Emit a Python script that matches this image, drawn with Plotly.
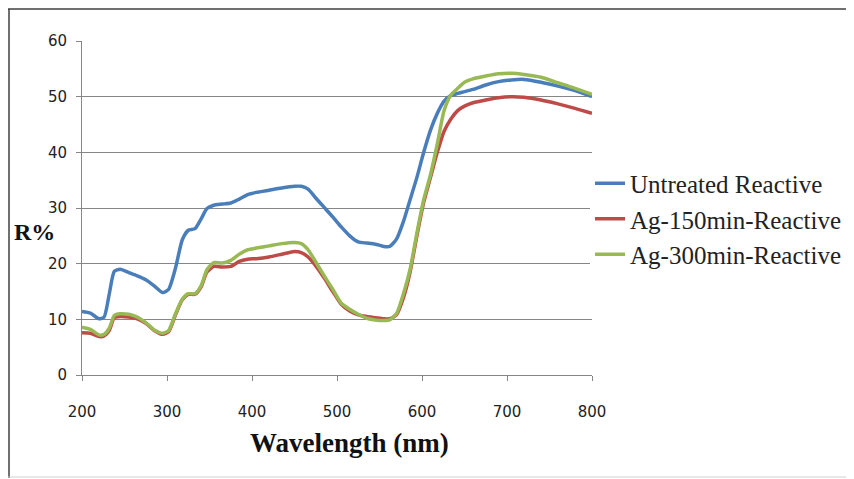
import plotly.graph_objects as go

wavelength = [200, 210, 220, 226, 232, 238, 245, 255, 265, 275, 285, 295, 302, 310, 318, 325,
              333, 340, 347, 355, 365, 375, 385, 395, 405, 420, 435, 450, 458, 466, 475, 485,
              495, 505, 515, 525, 535, 545, 555, 562, 570, 578, 586, 594, 602, 610, 618, 626,
              634, 642, 650, 660, 675, 690, 705, 720, 740, 760, 780, 800]

untreated = [11.4, 11.1, 10.1, 10.4, 14.5, 18.6, 19.0, 18.4, 17.8, 17.1, 16.0, 14.8, 15.4, 19.2, 24.3, 26.0,
             26.3, 28.0, 29.9, 30.5, 30.7, 30.9, 31.6, 32.4, 32.8, 33.2, 33.6, 33.9, 33.9, 33.4, 31.8, 30.1,
             28.4, 26.6, 25.0, 23.9, 23.7, 23.5, 23.1, 23.1, 24.4, 27.5, 31.5, 35.5, 40.0, 44.0, 47.0, 49.2,
             50.2, 50.6, 50.9, 51.3, 52.1, 52.7, 53.0, 53.1, 52.6, 51.9, 51.1, 50.0]

ag150 = [7.6, 7.5, 6.9, 7.0, 8.0, 10.3, 10.5, 10.4, 10.1, 9.3, 8.0, 7.3, 7.8, 10.8, 13.5, 14.5,
         14.5, 15.8, 18.5, 19.5, 19.4, 19.5, 20.4, 20.8, 20.9, 21.2, 21.7, 22.2, 22.0, 21.2, 19.6, 17.4,
         15.0, 12.7, 11.5, 10.8, 10.5, 10.3, 10.1, 10.1, 10.8, 13.8, 18.5, 25.0, 31.0, 35.5, 40.0, 43.8,
         46.0, 47.5, 48.3, 48.9, 49.4, 49.8, 50.0, 49.9, 49.4, 48.7, 47.9, 47.0]

ag300 = [8.6, 8.2, 7.2, 7.3, 8.4, 10.7, 11.0, 10.9, 10.4, 9.4, 8.1, 7.5, 8.0, 11.0, 13.6, 14.6,
         14.6, 16.0, 18.9, 20.2, 20.1, 20.6, 21.7, 22.5, 22.8, 23.2, 23.6, 23.8, 23.6, 22.5, 20.3, 17.8,
         15.4, 12.9, 11.8, 10.9, 10.2, 9.9, 9.8, 9.9, 11.0, 14.5, 19.0, 25.5, 31.5, 36.0, 41.5, 47.5,
         50.3, 51.5, 52.6, 53.2, 53.7, 54.1, 54.2, 54.0, 53.5, 52.5, 51.5, 50.4]

series_names = ["Untreated Reactive", "Ag-150min-Reactive", "Ag-300min-Reactive"]
series_values = [untreated, ag150, ag300]
series_colors = ["#4A7EBB", "#BE4B48", "#98B954"]

x_ticks = [200, 300, 400, 500, 600, 700, 800]
y_ticks = [0, 10, 20, 30, 40, 50, 60]

fig = go.Figure()
for name, vals, col in zip(series_names, series_values, series_colors):
    fig.add_trace(go.Scatter(x=wavelength, y=vals, mode="lines", name=name,
                             line=dict(color=col, width=3.5, shape="spline", smoothing=0.6)))

OFF = 8  # page body margin
FW, FH = 854 - OFF, 479 - OFF
L, R, T, B = 82, 592, 41, 375  # plot area in page pixels

def px(xp):
    return (xp - L) / (R - L)

def py(yp):
    return (B - yp) / (B - T)

axis_col = "#868686"
fig.update_layout(
    width=FW, height=FH,
    margin=dict(l=L - OFF, r=FW - (R - OFF), t=T - OFF, b=FH - (B - OFF), autoexpand=False),
    paper_bgcolor="white", plot_bgcolor="white",
    showlegend=True,
    legend=dict(x=px(590), y=py(219), xanchor="left", yanchor="middle",
                bgcolor="white", borderwidth=0, itemwidth=30,
                font=dict(family="Liberation Serif", size=25, color="#222222"),
                tracegroupgap=0),
    xaxis=dict(range=[200, 800], tickvals=x_ticks, showgrid=False,
               showline=True, linecolor=axis_col, linewidth=1,
               ticks="outside", ticklen=5, tickcolor=axis_col,
               ticklabelstandoff=18,
               tickfont=dict(family="DejaVu Sans", size=15, color="#222222"),
               zeroline=False),
    yaxis=dict(range=[0, 60], tickvals=y_ticks, showgrid=True, gridcolor=axis_col, gridwidth=1,
               showline=True, linecolor=axis_col, linewidth=1,
               ticks="outside", ticklen=5, tickcolor=axis_col,
               ticklabelstandoff=6,
               tickfont=dict(family="DejaVu Sans", size=15, color="#222222"),
               zeroline=False),
    annotations=[
        dict(text="<b>Wavelength (nm)</b>", x=px(349), y=py(443), xref="paper", yref="paper",
             showarrow=False, xanchor="center", yanchor="middle",
             font=dict(family="Liberation Serif", size=27, color="#111111")),
        dict(text="<b>R%</b>", x=px(34), y=py(232), xref="paper", yref="paper",
             showarrow=False, xanchor="center", yanchor="middle",
             font=dict(family="Liberation Serif", size=24, color="#111111")),
    ],
    shapes=[
        dict(type="line", xref="paper", yref="paper", x0=px(8), x1=px(853), y0=py(9), y1=py(9),
             line=dict(color="#404040", width=1.5)),
        dict(type="line", xref="paper", yref="paper", x0=px(9), x1=px(9), y0=py(9), y1=py(478),
             line=dict(color="#404040", width=1.5)),
        dict(type="line", xref="paper", yref="paper", x0=px(8), x1=px(853), y0=py(477), y1=py(477),
             line=dict(color="#d0d0d0", width=1)),
    ],
)

fig.write_html("out.html")
